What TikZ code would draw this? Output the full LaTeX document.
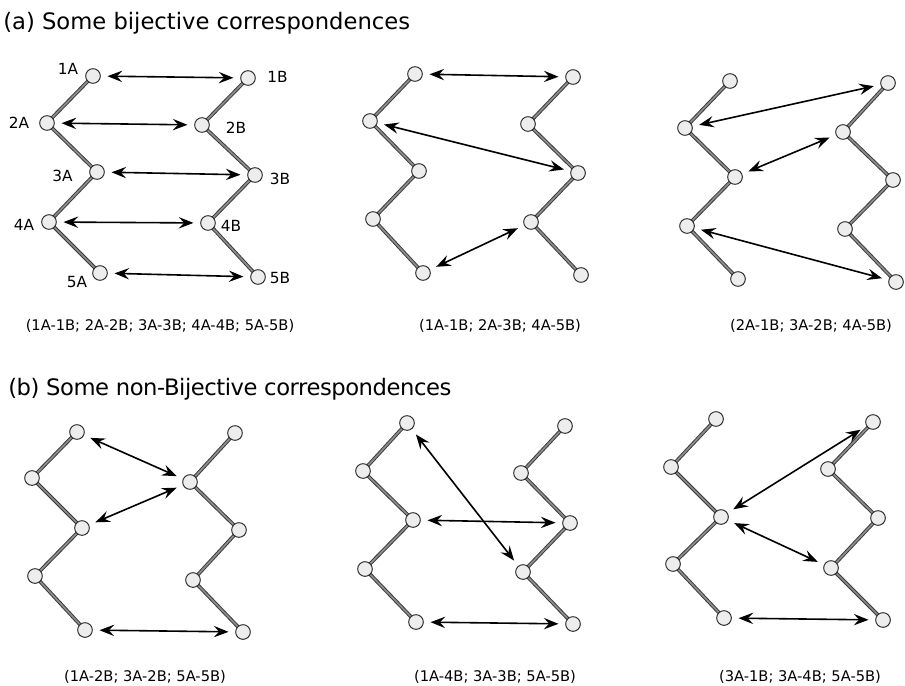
\documentclass[tikz,border=0pt]{standalone}
\usepackage{fontspec}
\setmainfont{DejaVu Sans}
\usetikzlibrary{arrows.meta}
\pgfdeclarelayer{background}
\pgfsetlayers{background,main}
\tikzset{
  vtx/.style={circle,draw=black!80,fill=black!7,line width=0.75pt,minimum size=11pt,inner sep=0pt},
  tree/.style={line width=0.7pt,draw=black!78,double=black!45,double distance=1.3pt},
  corr/.style={{Stealth[length=11pt,width=8.5pt,inset=4pt]}-{Stealth[length=11pt,width=8.5pt,inset=4pt]},line width=1.2pt,black,shorten <=5pt,shorten >=5pt},
  heading/.style={anchor=base west,inner sep=0pt,font=\fontsize{17}{20}\selectfont},
  caption/.style={anchor=base,inner sep=0pt,font=\fontsize{11}{13}\selectfont},
  lbl/.style={inner sep=0pt,font=\fontsize{11.5}{13}\selectfont}
}
\begin{document}
\begin{tikzpicture}[x=0.75pt,y=-0.75pt]
\useasboundingbox (0,0) rectangle (905,685);
% headings
\node[heading] (ha) at (3,30) {(a) Some bijective correspondences};
\node[heading] (hb) at (8,395) {\addfontfeature{LetterSpace=-2}(b) Some non-Bijective correspondences};
% vertices
\foreach \p/\coords in {
  1/{93/76,47/123,97/172,49/222,100/273},
  2/{415/74,370/121,419/171,373/219,423/273},
  3/{730/81,685/128,735/177,687/226,738/279},
  4/{77/432,32/478,82/528,35/576,85/630},
  5/{407/423,363/471,413/520,365/569,416/622},
  6/{716/419,671/467,721/517,673/564,724/618}}{
  \foreach \x/\y [count=\n] in \coords { \node[vtx] (p\p a\n) at (\x,\y) {}; }
}
\foreach \p/\coords in {
  1/{248/78,202/125,255/175,208/223,258/277},
  2/{573/77,528/124,578/173,531/222,581/275},
  3/{888/83,843/132,893/180,845/229,896/282},
  4/{235/433,190/482,239/530,193/580,243/632},
  5/{565/426,521/473,570/523,523/572,573/624},
  6/{873/422,828/469,878/518,831/568,883/620}}{
  \foreach \x/\y [count=\n] in \coords { \node[vtx] (p\p b\n) at (\x,\y) {}; }
}
% tree edges
\begin{pgfonlayer}{background}
\foreach \p in {1,...,6}{
  \foreach \s in {a,b}{
    \foreach \i/\j in {1/2,2/3,3/4,4/5}{
      \draw[tree] (p\p\s\i.center) -- (p\p\s\j.center);
    }
  }
}
\end{pgfonlayer}
% labels panel a1
\node[lbl] (l1a) at (68,69) {1A};
\node[lbl] (l2a) at (19,122.5) {2A};
\node[lbl] (l3a) at (62.5,176) {3A};
\node[lbl] (l4a) at (24,225) {4A};
\node[lbl] (l5a) at (77,282) {5A};
\node[lbl] (l1b) at (277.5,77) {1B};
\node[lbl] (l2b) at (236,127.5) {2B};
\node[lbl] (l3b) at (280,179) {3B};
\node[lbl] (l4b) at (231,226) {4B};
\node[lbl] (l5b) at (280,278) {5B};
% correspondences
\foreach \i in {1,...,5}{ \draw[corr] (p1a\i) -- (p1b\i); }
\draw[corr] (p2a1) -- (p2b1);
\draw[corr] (p2a2) -- (p2b3);
\draw[corr] (p2a5) -- (p2b4);
\draw[corr] (p3a2) -- (p3b1);
\draw[corr] (p3a3) -- (p3b2);
\draw[corr] (p3a4) -- (p3b5);
\draw[corr] (p4a1) -- (p4b2);
\draw[corr] (p4a3) -- (p4b2);
\draw[corr] (p4a5) -- (p4b5);
\draw[corr] (p5a1) -- (p5b4);
\draw[corr] (p5a3) -- (p5b3);
\draw[corr] (p5a5) -- (p5b5);
\draw[corr] (p6a3) -- (p6b1);
\draw[corr] (p6a3) -- (p6b4);
\draw[corr] (p6a5) -- (p6b5);
% captions
\node[caption] (c1) at (160,330) {(1A-1B; 2A-2B; 3A-3B; 4A-4B; 5A-5B)};
\node[caption] (c2) at (500,330) {(1A-1B; 2A-3B; 4A-5B)};
\node[caption] (c3) at (811,330) {(2A-1B; 3A-2B; 4A-5B)};
\node[caption] (c4) at (145,681) {(1A-2B; 3A-2B; 5A-5B)};
\node[caption] (c5) at (495,681) {(1A-4B; 3A-3B; 5A-5B)};
\node[caption] (c6) at (800,681) {(3A-1B; 3A-4B; 5A-5B)};
\end{tikzpicture}
\end{document}
